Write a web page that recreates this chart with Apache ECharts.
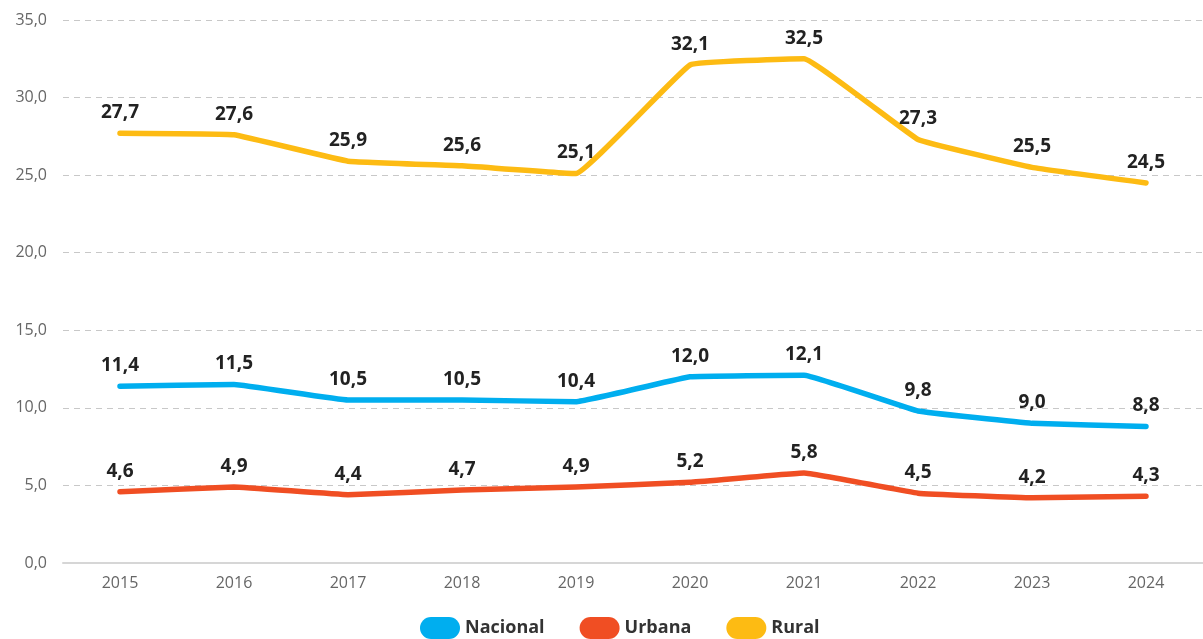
<!DOCTYPE html>
<html>
<head>
<meta charset="utf-8">
<script src="https://cdn.jsdelivr.net/npm/echarts@6/dist/echarts.min.js"></script>
<style>
html,body{margin:0;padding:0;background:#fff;}
#chart{width:1203px;height:639px;}
</style>
</head>
<body>
<div id="chart"></div>
<script>
const years = ['2015','2016','2017','2018','2019','2020','2021','2022','2023','2024'];
const nacional = [11.4, 11.5, 10.5, 10.5, 10.4, 12.0, 12.1, 9.8, 9.0, 8.8];
const urbana = [4.6, 4.9, 4.4, 4.7, 4.9, 5.2, 5.8, 4.5, 4.2, 4.3];
const rural = [27.7, 27.6, 25.9, 25.6, 25.1, 32.1, 32.5, 27.3, 25.5, 24.5];

const fmt = v => v.toFixed(1).replace('.', ',');
const FONT = '"Open Sans", "Noto Sans", sans-serif';
const PILL = 'path://M11,0 H29 A11,11 0 0 1 29,22 H11 A11,11 0 0 1 11,0 Z';

function lineSeries(name, data, color) {
  return {
    name: name,
    type: 'line',
    data: data,
    smooth: 0.07,
    symbol: 'circle',
    symbolSize: 0,
    showSymbol: true,
    lineStyle: { width: 5.5, color: color, cap: 'round', join: 'round' },
    itemStyle: { color: color },
    label: {
      show: true,
      position: 'top',
      distance: 11,
      formatter: p => fmt(p.value),
      fontFamily: FONT,
      fontWeight: 'bold',
      fontSize: 19,
      color: '#222'
    }
  };
}

const chart = echarts.init(document.getElementById('chart'));
chart.setOption({
  animation: false,
  textStyle: { fontFamily: FONT },
  grid: { left: 63, top: 20, width: 1144, height: 543, containLabel: false },
  legend: {
    top: 617,
    left: 420,
    itemWidth: 40,
    itemHeight: 22,
    itemGap: 35,
    padding: 0,
    icon: PILL,
    textStyle: { fontFamily: FONT, fontWeight: 'bold', fontSize: 18, color: '#333' },
    data: ['Nacional', 'Urbana', 'Rural']
  },
  xAxis: {
    type: 'category',
    data: years,
    boundaryGap: true,
    axisLine: { lineStyle: { color: '#d6d6d6', width: 2 } },
    axisTick: { show: false },
    axisLabel: { color: '#666', fontSize: 16, margin: 12, fontFamily: FONT }
  },
  yAxis: {
    type: 'value',
    min: 0,
    max: 35,
    interval: 5,
    axisLine: { show: false },
    axisTick: { show: false },
    axisLabel: { color: '#666', fontSize: 16, margin: 16, formatter: v => fmt(v), fontFamily: FONT },
    splitLine: { lineStyle: { color: '#c8c8c8', type: [6, 5], width: 1 } }
  },
  series: [
    lineSeries('Nacional', nacional, '#00AEEF'),
    lineSeries('Urbana', urbana, '#F04E23'),
    lineSeries('Rural', rural, '#FDBB13')
  ]
});
</script>
</body>
</html>
